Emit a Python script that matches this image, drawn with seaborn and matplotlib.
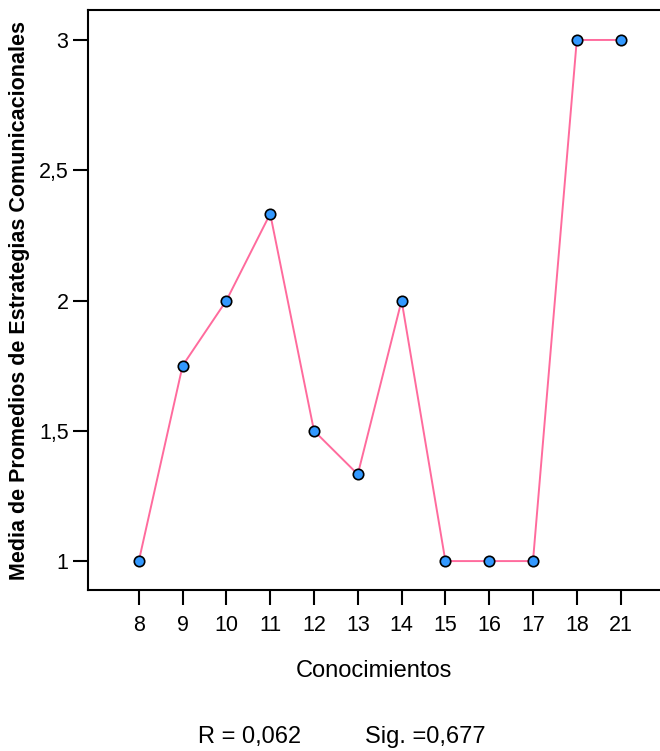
import matplotlib
matplotlib.use('Agg')
import matplotlib.pyplot as plt
import seaborn as sns
import pandas as pd
from matplotlib.ticker import FuncFormatter

conocimientos = ['8', '9', '10', '11', '12', '13', '14', '15', '16', '17', '18', '21']
media = [1.0, 1.75, 2.0, 2.333, 1.5, 1.333, 2.0, 1.0, 1.0, 1.0, 3.0, 3.0]
y_ticks = [1, 1.5, 2, 2.5, 3]
r_text = 'R = 0,062'
sig_text = 'Sig. =0,677'

df = pd.DataFrame({'Conocimientos': conocimientos, 'Media': media})

sns.set_style('white')
plt.rcParams['font.family'] = ['Liberation Sans', 'DejaVu Sans']
plt.rcParams['text.color'] = 'black'
plt.rcParams['axes.labelcolor'] = 'black'
plt.rcParams['xtick.color'] = 'black'
plt.rcParams['ytick.color'] = 'black'

fig = plt.figure(figsize=(6.6, 7.51), dpi=100)
ax = fig.add_axes([88 / 660, 1 - 590 / 751, 1 - 88 / 660, 580 / 751])

sns.lineplot(data=df, x='Conocimientos', y='Media', sort=False, color='#ff6b9d',
             linewidth=1.4, marker='o', markersize=7.5, markerfacecolor='#3399ff',
             markeredgecolor='black', markeredgewidth=1.2, ax=ax)

ax.set_xlim(-1.16, 11.9)
ax.set_ylim(0.889, 3.115)
ax.set_yticks(y_ticks)
ax.yaxis.set_major_formatter(FuncFormatter(lambda v, p: f'{v:g}'.replace('.', ',')))

for s in ['left', 'bottom', 'top']:
    ax.spines[s].set_color('black')
    ax.spines[s].set_linewidth(1.5)
ax.spines['right'].set_visible(False)

ax.tick_params(axis='both', direction='out', length=11, width=1.5, color='black',
               labelcolor='black', labelsize=15.5, bottom=True, left=True)
ax.tick_params(axis='x', pad=7)
ax.tick_params(axis='y', pad=3)
ax.set_xlabel('Conocimientos', fontsize=17, labelpad=17)
ax.set_ylabel('Media de Promedios de Estrategias Comunicacionales', fontsize=15.5,
              fontweight='bold', labelpad=6)

fig.text(250 / 660, 1 - 737 / 751, r_text, ha='center', va='center', fontsize=17)
fig.text(425 / 660, 1 - 737 / 751, sig_text, ha='center', va='center', fontsize=17)

fig.savefig('out.png', dpi=100)
